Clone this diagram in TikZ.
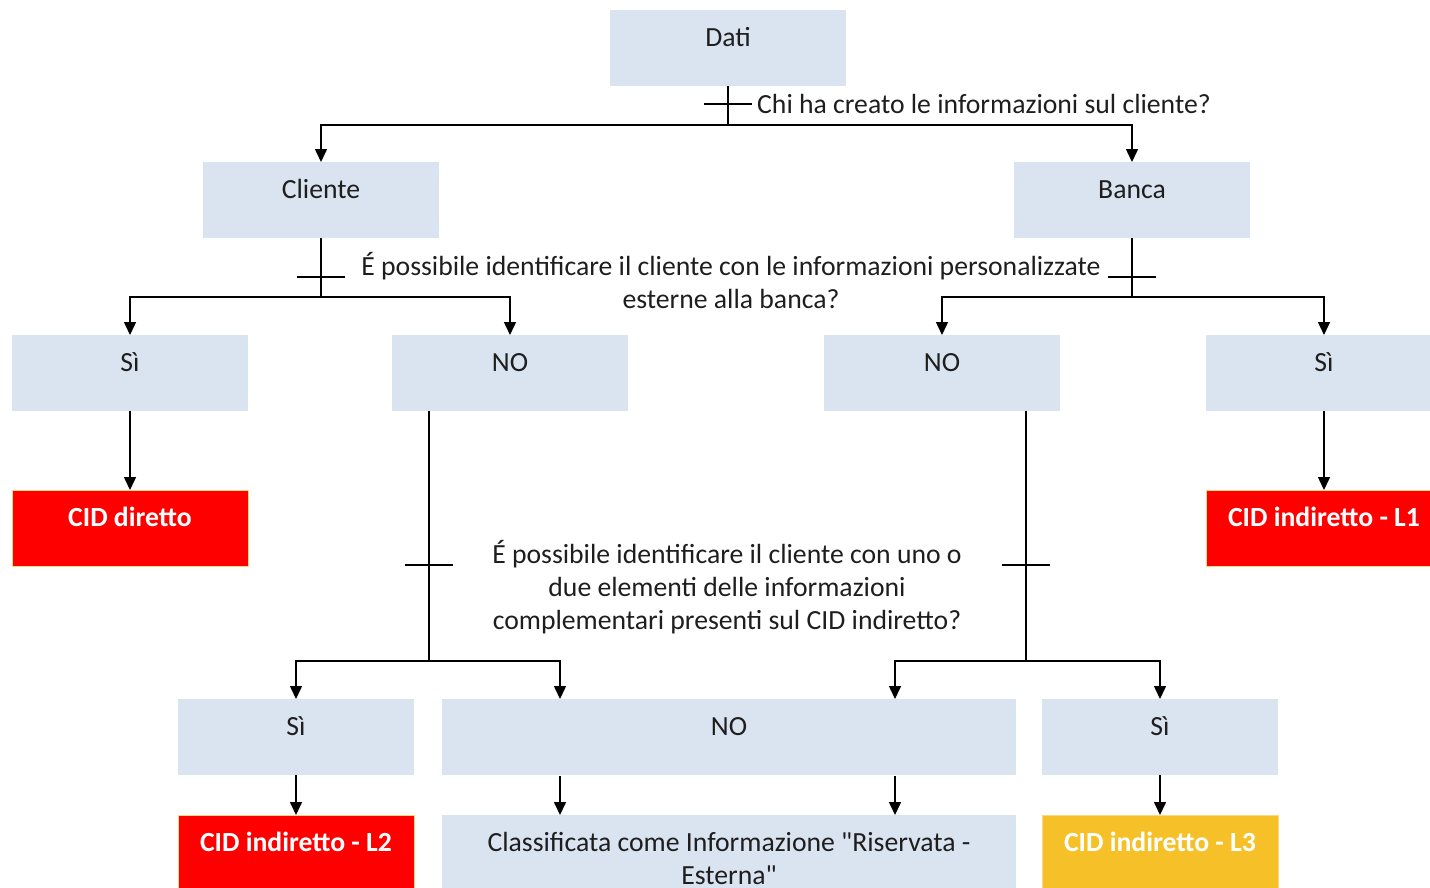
\documentclass[tikz,border=0pt]{standalone}
\usepackage{fontspec}
\setmainfont{Carlito}[Ligatures=TeXOff]
\usetikzlibrary{arrows.meta}
\definecolor{lb}{RGB}{218,227,240}
\definecolor{rd}{RGB}{255,0,0}
\definecolor{yl}{RGB}{246,193,40}
\definecolor{bd}{RGB}{255,214,130}
\definecolor{txt}{RGB}{30,30,30}
\newcommand\myfs{\fontsize{27.7}{33}\selectfont}
\begin{document}
\begin{tikzpicture}[x=1pt,y=-1pt,font=\myfs,text=txt,
  box/.style={rectangle,fill=lb,inner sep=0pt,minimum width=236pt,text height=36pt,text depth=40pt,align=center,anchor=north},
  widebox/.style={box,minimum width=574pt},
  hot/.style={box,draw=bd,line width=1pt,text=white,font=\myfs\bfseries},
  ln/.style={line width=1.5pt,draw=black},
  arr/.style={ln,-{Triangle[length=13pt,width=12pt]}}]
\useasboundingbox (0,0) rectangle (1430,887);
% boxes
\node[box] (dati) at (728,10) {Dati};
\node[box] (cliente) at (321,162) {Cliente};
\node[box] (banca) at (1132,162) {Banca};
\node[box] (si1) at (130,335) {Sì};
\node[box] (no1) at (510,335) {NO};
\node[box] (no2) at (942,335) {NO};
\node[box] (si2) at (1324,335) {Sì};
\node[hot,fill=rd] (cidd) at (130,490) {CID diretto};
\node[hot,fill=rd] (cidl1) at (1324,490) {CID indiretto - L1};
\node[box] (si3) at (296,699) {Sì};
\node[widebox] (no3) at (729,699) {NO};
\node[box] (si4) at (1160,699) {Sì};
\node[hot,fill=rd] (cidl2) at (296,815) {CID indiretto - L2};
\node[widebox,text height=69pt,text depth=7pt] (cls) at (729,815) {Classificata come Informazione "Riservata -\\Esterna"};
\node[hot,fill=yl] (cidl3) at (1160,815) {CID indiretto - L3};
% labels
\node[anchor=west,inner sep=0pt] (q1) at (757,104) {Chi ha creato le informazioni sul cliente?};
\node[align=center,inner sep=0pt] (q2) at (731,281) {É possibile identificare il cliente con le informazioni personalizzate\\esterne alla banca?};
\node[align=center,inner sep=0pt] (q3) at (727,587) {É possibile identificare il cliente con uno o\\due elementi delle informazioni\\complementari presenti sul CID indiretto?};
% coordinates
\coordinate (j1) at (728,125);
\coordinate (t1) at (728,104);
\coordinate (j2) at (321,297);
\coordinate (t2) at (321,277);
\coordinate (j3) at (1132,297);
\coordinate (t3) at (1132,277);
\coordinate (n1) at (429,411);
\coordinate (t4) at (429,565);
\coordinate (j4) at (429,661);
\coordinate (n2) at (1026,411);
\coordinate (t5) at (1026,565);
\coordinate (j5) at (1026,661);
\coordinate (a1) at (560,699);
\coordinate (a2) at (895,699);
\coordinate (b1) at (560,776);
\coordinate (b2) at (895,776);
\coordinate (c1) at (560,815);
\coordinate (c2) at (895,815);
% connectors
\draw[ln] (dati.south) -- (j1);
\draw[arr] (j1) -| (cliente.north);
\draw[arr] (j1) -| (banca.north);
\draw[ln] (cliente.south) -- (j2);
\draw[arr] (j2) -| (si1.north);
\draw[arr] (j2) -| (no1.north);
\draw[ln] (banca.south) -- (j3);
\draw[arr] (j3) -| (no2.north);
\draw[arr] (j3) -| (si2.north);
\draw[arr] (si1) -- (cidd);
\draw[arr] (si2) -- (cidl1);
\draw[ln] (n1) -- (j4);
\draw[arr] (j4) -| (si3.north);
\draw[arr] (j4) -| (a1);
\draw[ln] (n2) -- (j5);
\draw[arr] (j5) -| (a2);
\draw[arr] (j5) -| (si4.north);
\draw[arr] (si3) -- (cidl2);
\draw[arr] (b1) -- (c1);
\draw[arr] (b2) -- (c2);
\draw[arr] (si4) -- (cidl3);
% ticks
\draw[ln] ([xshift=-24pt]t1) -- ([xshift=24pt]t1);
\draw[ln] ([xshift=-24pt]t2) -- ([xshift=24pt]t2);
\draw[ln] ([xshift=-24pt]t3) -- ([xshift=24pt]t3);
\draw[ln] ([xshift=-24pt]t4) -- ([xshift=24pt]t4);
\draw[ln] ([xshift=-24pt]t5) -- ([xshift=24pt]t5);
\end{tikzpicture}
\end{document}
